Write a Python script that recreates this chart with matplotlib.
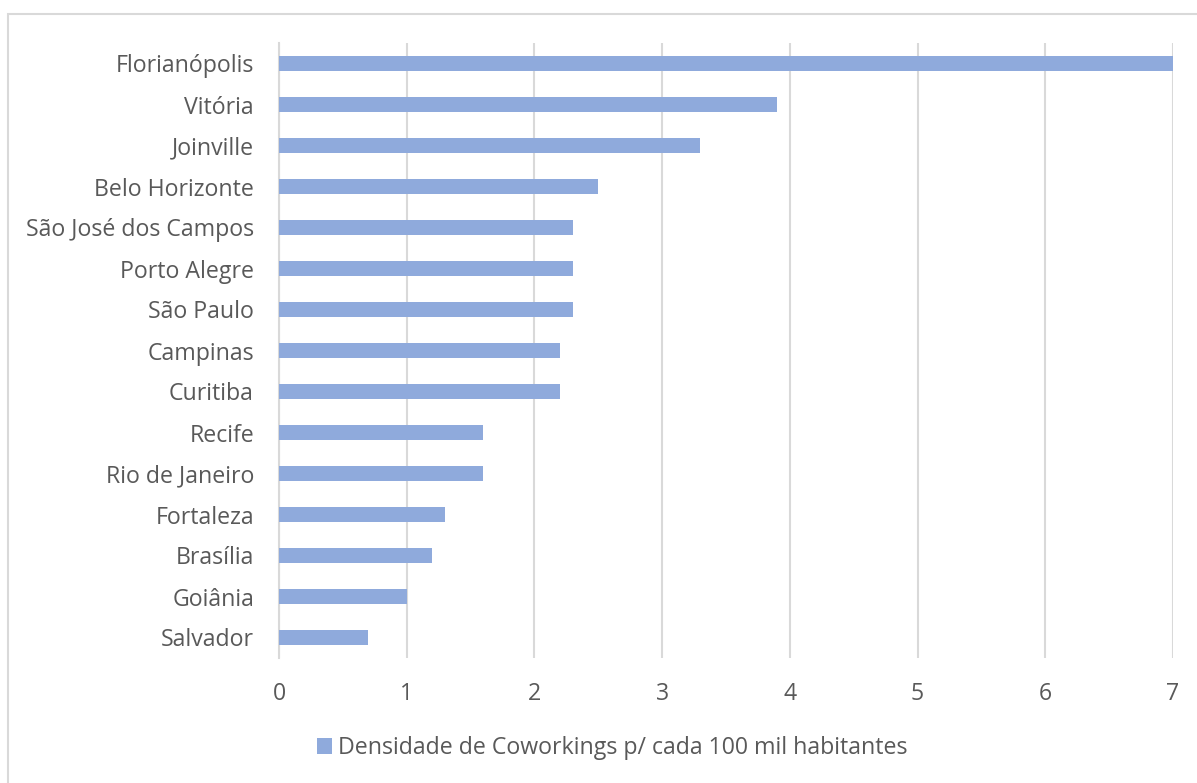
import matplotlib.pyplot as plt
from matplotlib.patches import Rectangle

cidades = ["Florianópolis", "Vitória", "Joinville", "Belo Horizonte",
           "São José dos Campos", "Porto Alegre", "São Paulo", "Campinas",
           "Curitiba", "Recife", "Rio de Janeiro", "Fortaleza", "Brasília",
           "Goiânia", "Salvador"]
densidade = [7.0, 3.9, 3.3, 2.5, 2.3, 2.3, 2.3, 2.2, 2.2, 1.6, 1.6, 1.3, 1.2, 1.0, 0.7]
serie = "Densidade de Coworkings p/ cada 100 mil habitantes"

plt.rcParams['font.family'] = ['Open Sans', 'DejaVu Sans']
cor_texto = '#595959'
cor_barra = '#8FAADC'
cor_grade = '#D9D9D9'

fig = plt.figure(figsize=(11.97, 7.83), dpi=100)
W, H = 1197, 783
ax = fig.add_axes([279 / W, 1 - 658 / H, (1173 - 279) / W, (658 - 43) / H])

y = list(range(len(cidades)))
ax.barh(y, densidade, height=0.35, color=cor_barra, label=serie, zorder=3)
ax.set_ylim(len(cidades) - 0.5, -0.5)
ax.set_xlim(0, 7)
ax.set_yticks(y)
ax.set_yticklabels(cidades)
ax.set_xticks(range(8))
ax.xaxis.grid(True, color=cor_grade, linewidth=1.5, zorder=0)
for s in ['top', 'right', 'bottom']:
    ax.spines[s].set_visible(False)
ax.spines['left'].set_color(cor_grade)
ax.spines['left'].set_linewidth(1.5)
ax.tick_params(axis='both', length=0, colors=cor_texto, labelsize=16.7)
ax.tick_params(axis='y', pad=18)
ax.tick_params(axis='x', pad=17)

leg = fig.legend(loc='center', bbox_to_anchor=(612 / W, 1 - 748 / H), frameon=False,
                 fontsize=16.7, handlelength=0.65, handleheight=0.65, handletextpad=0.26)
for t in leg.get_texts():
    t.set_color(cor_texto)

fig.patches.append(Rectangle((8 / W, -0.1), 1.2, 1 - 14 / H + 0.1,
                             transform=fig.transFigure, fill=False,
                             edgecolor=cor_grade, linewidth=1.5))

fig.savefig("out.png", dpi=100)
